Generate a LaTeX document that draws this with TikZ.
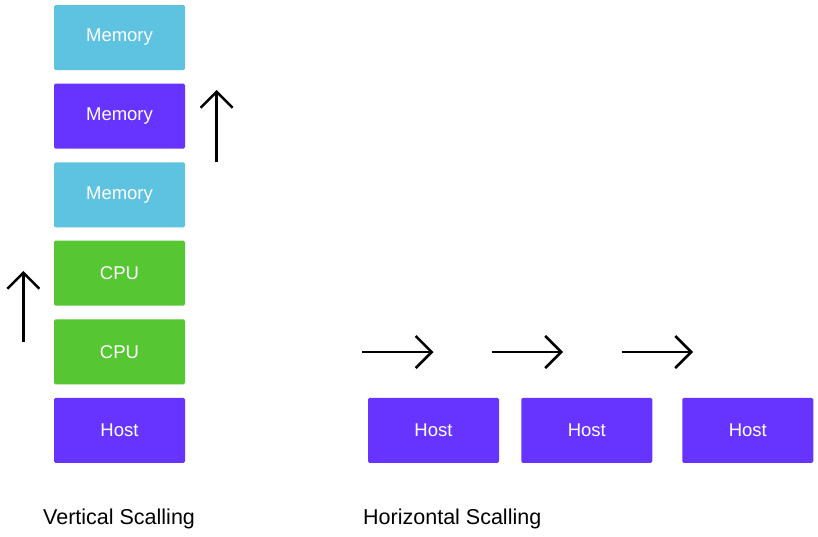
\documentclass[tikz,border=0pt]{standalone}
\usepackage{fontspec}
\setmainfont{Liberation Sans}
\usetikzlibrary{arrows.meta}
\definecolor{memcyan}{RGB}{93,195,225}
\definecolor{hostpurple}{RGB}{102,51,255}
\definecolor{cpugreen}{RGB}{86,198,50}
\begin{document}
\begin{tikzpicture}[x=1pt,y=-1pt,
  box/.style={minimum width=131pt,minimum height=65pt,inner sep=0pt,rounded corners=1.5pt,
    text=white,font=\fontsize{18.5}{22}\selectfont},
  membox/.style={box,fill=memcyan},
  hostbox/.style={box,fill=hostpurple},
  cpubox/.style={box,fill=cpugreen},
  scalearrow/.style={line width=2.5pt,-{Straight Barb[length=16pt,width=32pt,line width=2.5pt]}},
  caption/.style={anchor=base west,inner sep=0pt,font=\fontsize{21.5}{25}\selectfont}]
\useasboundingbox[fill=white] (0,0) rectangle (818,536);
% vertical stack
\node[membox]  (m1) at (119.5,37.5)  {Memory};
\node[hostbox] (m2) at (119.5,116.2) {Memory};
\node[membox]  (m3) at (119.5,194.8) {Memory};
\node[cpubox]  (c1) at (119.5,273)   {CPU};
\node[cpubox]  (c2) at (119.5,351.8) {CPU};
\node[hostbox] (h0) at (119.5,430.4) {Host};
% horizontal hosts
\node[hostbox] (h1) at (433.5,430.4) {Host};
\node[hostbox] (h2) at (586.8,430.4) {Host};
\node[hostbox] (h3) at (747.8,430.4) {Host};
% arrows
\coordinate (va1s) at (216.7,162);
\coordinate (va1e) at (216.7,90);
\coordinate (va2s) at (23.3,342);
\coordinate (va2e) at (23.3,271);
\draw[scalearrow] (va1s) -- (va1e);
\draw[scalearrow] (va2s) -- (va2e);
\coordinate (ha1s) at (362,352);
\coordinate (ha1e) at (433.5,352);
\coordinate (ha2s) at (491.5,352);
\coordinate (ha2e) at (563,352);
\coordinate (ha3s) at (621.5,352);
\coordinate (ha3e) at (693,352);
\draw[scalearrow] (ha1s) -- (ha1e);
\draw[scalearrow] (ha2s) -- (ha2e);
\draw[scalearrow] (ha3s) -- (ha3e);
% captions
\node[caption] (vcap) at (43,524) {Vertical Scalling};
\node[caption] (hcap) at (363,524) {Horizontal Scalling};
\end{tikzpicture}
\end{document}
